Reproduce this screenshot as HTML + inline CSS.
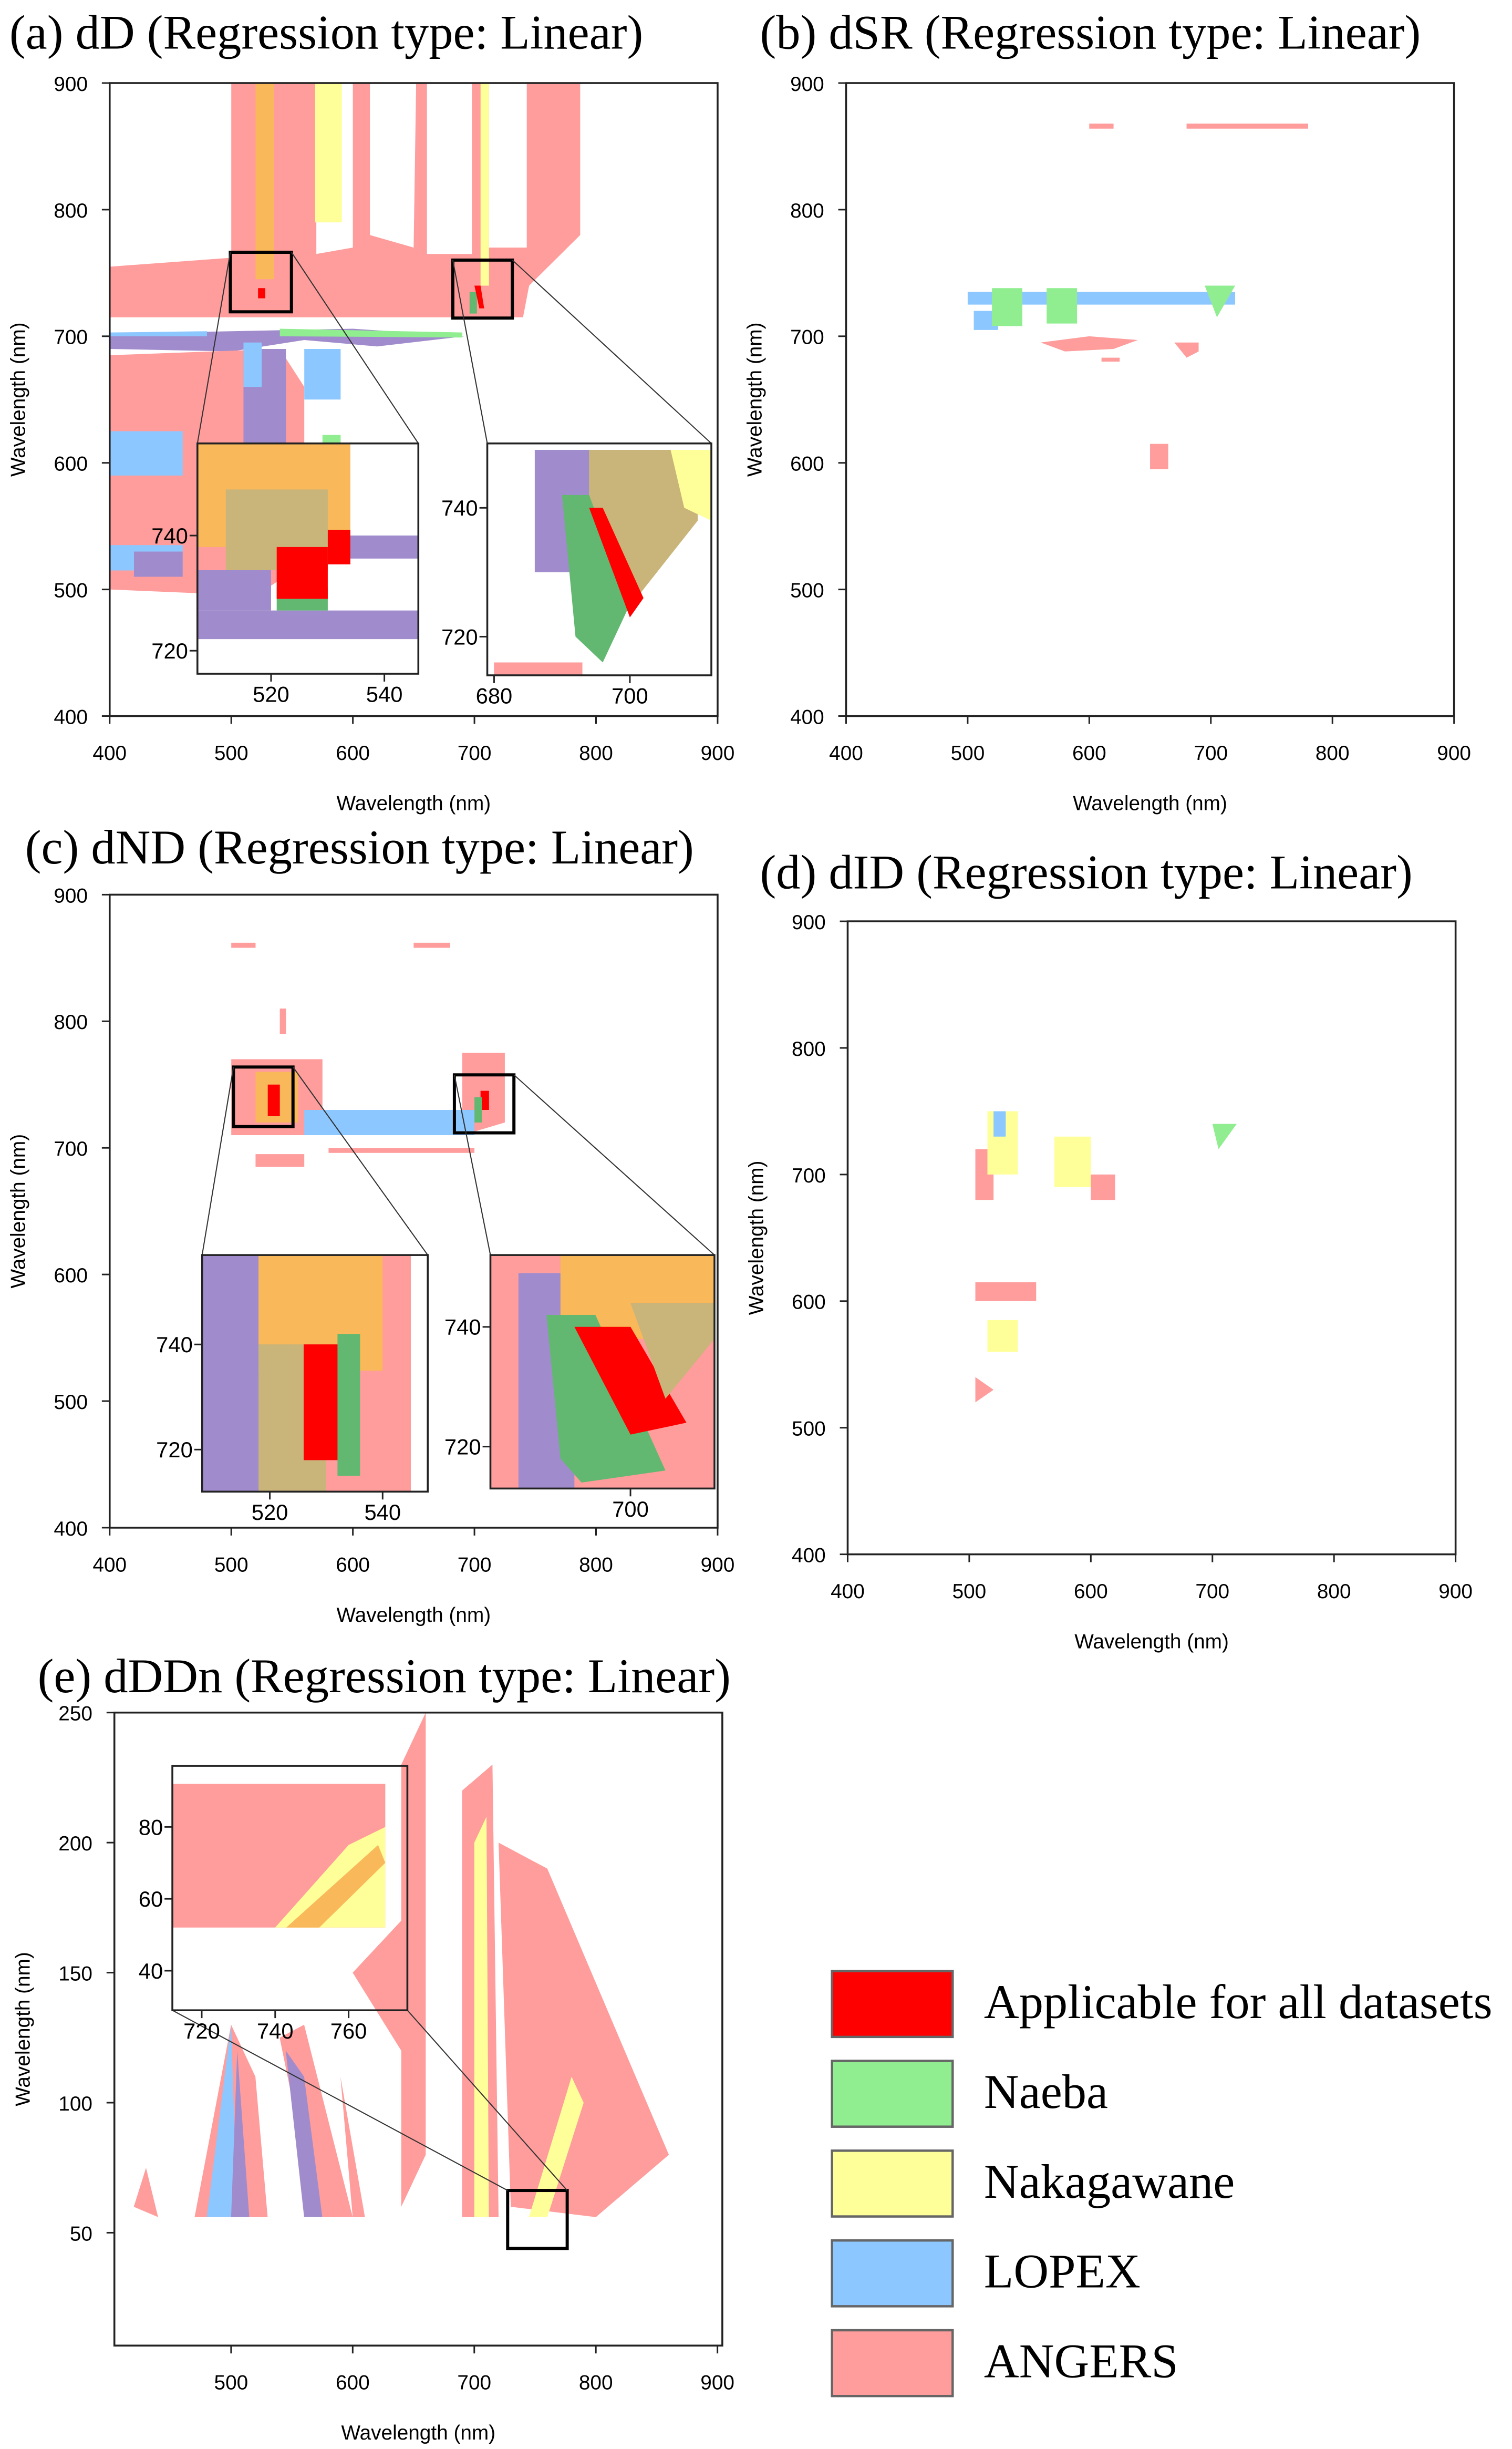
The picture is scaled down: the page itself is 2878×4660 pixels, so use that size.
<!DOCTYPE html>
<html><head><meta charset="utf-8"><style>
html,body{margin:0;padding:0;background:#fff}
svg{display:block}
text{font-family:"Liberation Sans",sans-serif}
text.t{font-family:"Liberation Serif",serif;font-size:31px}
text.lgt{font-family:"Liberation Serif",serif;font-size:31px}
</style></head><body>
<svg id="s" width="2878" height="4660" viewBox="0 0 965 1563" preserveAspectRatio="none" xmlns="http://www.w3.org/2000/svg">
<text class="t" x="6" y="31">(a) dD (Regression type: Linear)</text>
<text class="t" x="485" y="31">(b) dSR (Regression type: Linear)</text>
<text class="t" x="16" y="551">(c) dND (Regression type: Linear)</text>
<text class="t" x="485" y="567">(d) dID (Regression type: Linear)</text>
<text class="t" x="24" y="1080">(e) dDDn (Regression type: Linear)</text>
<g id="legend"></g>
</svg>
<script>
const NS='http://www.w3.org/2000/svg';
const S=document.getElementById('s');
const C={R:'#ff0000',G:'#90ee90',g:'#62b870',Y:'#ffff99',B:'#8cc8ff',P:'#ff9c9c',O:'#f9b859',L:'#c9b47a',U:'#a08ccc'};
const legendLabels=['Applicable for all datasets','Naeba','Nakagawane','LOPEX','ANGERS'];
const legendColors=['R','G','Y','B','P'];
// tick arrays
const xTicks=[400,500,600,700,800,900];
const yTicksMain=[400,500,600,700,800,900];
const yTicksE=[50,100,150,200,250];
// region polygons per panel, data units [color,[x,y,...]]
const regionsA=[
['P',[400,720,400,755,500,762,500,900,570,900,570,765,600,770,600,900,614,900,614,780,650,770,652,900,661,900,661,765,698,765,698,900,712,900,712,770,743,770,743,900,787,900,787,780,745,740,740,715,400,715]],
['Y',[569,900,591,900,591,790,569,790]],
['O',[520,900,535,900,535,745,520,745]],
['Y',[705,900,712,900,712,740,705,740]],
['U',[400,702,400,690,500,688,560,697,620,692,692,700,600,706,500,704]],
['G',[540,706,690,703,690,699,540,700]],
['B',[400,703,480,704,480,700,400,700]],
['P',[400,685,540,690,560,660,560,600,540,560,560,520,520,495,400,500]],
['U',[510,690,545,690,545,600,510,600]],
['B',[510,695,525,695,525,660,510,660]],
['B',[400,625,460,625,460,590,400,590]],
['B',[400,535,460,535,460,515,400,515]],
['U',[420,530,460,530,460,510,420,510]],
['B',[560,690,590,690,590,650,560,650]],
['G',[575,622,590,622,590,610,575,610]],
['R',[522,738,528,738,528,730,522,730]],
['g',[696,735,702,735,702,718,696,718]],
['R',[700,740,705,740,708,722,704,722]]
];
const insetA1=[['O',[507,756,534,756,534,738,507,738]],['L',[512,748,530,748,530,734,512,734]],['U',[507,734,520,734,520,727,507,727]],['U',[507,727,546,727,546,722,507,722]],['U',[530,740,546,740,546,736,530,736]],['g',[521,731,530,731,530,727,521,727]],['R',[521,738,530,738,530,729,521,729]],['R',[530,741,534,741,534,735,530,735]]];
const insetA2=[['U',[686,749,694,749,694,730,686,730]],['L',[694,749,710,749,710,738,698,722,694,730]],['Y',[706,749,712,749,712,738,708,740]],['g',[690,742,694,742,700,725,696,716,692,720]],['R',[694,740,696,740,702,726,700,723]],['P',[680,716,693,716,693,712,680,712]]];
const regionsB=[['P',[600,868,620,868,620,864,600,864]],['P',[680,868,780,868,780,864,680,864]],['B',[500,735,720,735,720,725,500,725]],['B',[505,720,525,720,525,705,505,705]],['G',[520,738,545,738,545,708,520,708]],['G',[565,738,590,738,590,710,565,710]],['G',[695,740,720,740,705,715]],['P',[560,695,600,700,640,697,620,690,580,688]],['P',[610,683,625,683,625,680,610,680]],['P',[670,695,690,695,690,688,680,683]],['P',[650,615,665,615,665,595,650,595]]];
const regionsC=[['P',[500,770,575,770,575,710,500,710]],['O',[520,760,555,760,555,720,520,720]],['R',[530,750,540,750,540,725,530,725]],['P',[690,775,725,775,725,720,690,710]],['R',[705,745,712,745,712,730,705,730]],['g',[700,740,706,740,706,720,700,720]],['P',[520,695,560,695,560,685,520,685]],['P',[580,700,700,700,700,696,580,696]],['B',[560,730,700,730,700,710,560,710]],['P',[500,862,520,862,520,858,500,858]],['P',[650,862,680,862,680,858,650,858]],['P',[540,810,545,810,545,790,540,790]]];
const insetC1=[['P',[508,757,545,757,545,712,508,712]],['U',[508,757,522,757,522,712,508,712]],['O',[518,757,540,757,540,735,518,735]],['L',[518,740,530,740,530,712,518,712]],['R',[526,740,534,740,534,718,526,718]],['g',[532,742,536,742,536,715,532,715]]];
const insetC2=[['P',[680,752,712,752,712,712,680,712]],['U',[684,749,692,749,692,712,684,712]],['O',[690,752,712,752,712,738,690,738]],['g',[688,742,695,742,705,716,693,714,690,718]],['R',[692,740,700,740,708,724,700,722]],['L',[700,744,712,744,712,738,705,728]]];
const regionsD=[['P',[505,720,520,720,520,680,505,680]],['Y',[515,750,540,750,540,700,515,700]],['B',[520,750,530,750,530,730,520,730]],['Y',[570,730,600,730,600,690,570,690]],['P',[600,700,620,700,620,680,600,680]],['G',[700,740,720,740,705,720]],['P',[505,615,555,615,555,600,505,600]],['Y',[515,585,540,585,540,560,515,560]],['P',[505,540,520,530,505,520]]];
const regionsE=[['P',[420,60,430,75,440,56]],['P',[470,56,500,130,520,110,530,56]],['B',[500,130,505,56,480,56]],['U',[505,120,515,56,500,56]],['P',[540,125,560,130,600,56,570,56]],['U',[545,120,560,110,575,56,560,56]],['P',[590,110,610,56,600,56]],['P',[640,230,660,250,660,80,640,60]],['P',[690,220,715,230,720,56,690,56]],['Y',[700,200,710,210,712,56,700,56]],['P',[720,200,760,190,860,80,800,56,730,60]],['Y',[745,56,760,56,790,100,780,110]],['P',[600,150,640,170,660,140,640,120]]];
const insetE=[['P',[712,92,770,92,770,52,712,52]],['Y',[740,52,770,52,770,80,760,75]],['O',[743,52,752,52,770,70,768,75]]];

function el(tag,attrs,parent,name,inter){const e=document.createElementNS(NS,tag);for(const k in attrs)e.setAttribute(k,attrs[k]);


parent.appendChild(e);return e;}
function scale(d0,d1,r0,r1){return v=>r0+(v-d0)*(r1-r0)/(d1-d0);}
function drawRegions(g,regs,sx,sy,clip){regs.forEach((r,i)=>{let pts=[];for(let j=0;j<r[1].length;j+=2)pts.push(sx(r[1][j]).toFixed(1)+','+sy(r[1][j+1]).toFixed(1));
const p=el('polygon',{points:pts.join(' '),fill:C[r[0]]},g,'region-'+i);if(clip)p.setAttribute('clip-path','url(#'+clip+')');});}
let cid=0;
function panel(name,box,xd,yd,xt,yt,regs,xlab){
 const g=el('g',{},S,name);
 const sx=scale(xd[0],xd[1],box[0],box[1]),sy=scale(yd[0],yd[1],box[3],box[2]);
 const id='c'+(cid++);const cp=el('clipPath',{id:id},g,'clip');el('rect',{x:box[0],y:box[2],width:box[1]-box[0],height:box[3]-box[2]},cp,'clip-rect');
 drawRegions(g,regs,sx,sy,id);
 el('rect',{x:box[0],y:box[2],width:box[1]-box[0],height:box[3]-box[2],fill:'none',stroke:'#222','stroke-width':1.2},g,'plot-frame');
 xt.forEach(v=>{const x=sx(v);el('line',{x1:x,x2:x,y1:box[3],y2:box[3]+5,stroke:'#222'},g,'x-tick');const t=el('text',{x:x,y:box[3]+(xlab?28:18),'text-anchor':'middle','font-size':xlab?13:14},g,'x-tick-label');t.textContent=v;});
 yt.forEach(v=>{const y=sy(v);el('line',{x1:box[0]-5,x2:box[0],y1:y,y2:y,stroke:'#222'},g,'y-tick');const t=el('text',{x:box[0]-(xlab?14:6),y:y+5,'text-anchor':'end','font-size':xlab?13:14},g,'y-tick-label');t.textContent=v;});
 if(xlab){const t=el('text',{x:(box[0]+box[1])/2,y:box[3]+60,'text-anchor':'middle','font-size':13},g,'x-axis-title');t.textContent='Wavelength (nm)';
 const cy=(box[2]+box[3])/2;const t2=el('text',{x:box[0]-54,y:cy,'text-anchor':'middle','font-size':13,transform:'rotate(-90 '+(box[0]-54)+' '+cy+')'},g,'y-axis-title');t2.textContent='Wavelength (nm)';}
 return {sx,sy};
}
function zoomLines(b,i){const g=el('g',{},S,'zoom-connector');
 el('rect',{x:b[0],y:b[1],width:b[2]-b[0],height:b[3]-b[1],fill:'none',stroke:'#000','stroke-width':2},g,'zoom-box');
 el('line',{x1:b[0],y1:b[1],x2:i[0],y2:i[1],stroke:'#333','stroke-width':0.7},g,'connector-line');
 el('line',{x1:b[2],y1:b[1],x2:i[2],y2:i[1],stroke:'#333','stroke-width':0.7},g,'connector-line');}
panel('panel-a',[70,458,53,457],[400,900],[400,900],xTicks,yTicksMain,regionsA,true);
zoomLines([147,161,186,199],[126,283,267,283]);zoomLines([289,166,327,203],[311,283,454,283]);
panel('inset-a1',[126,267,283,430],[507,546],[716,756],[520,540],[720,740],insetA1,false);
panel('inset-a2',[311,454,283,431],[679,712],[714,750],[680,700],[720,740],insetA2,false);
panel('panel-b',[540,928,53,457],[400,900],[400,900],xTicks,yTicksMain,regionsB,true);
panel('panel-c',[70,458,571,975],[400,900],[400,900],xTicks,yTicksMain,regionsC,true);
zoomLines([149,681,187,719],[129,801,273,801]);zoomLines([290,686,328,723],[313,801,456,801]);
panel('inset-c1',[129,273,801,952],[508,548],[712,757],[520,540],[720,740],insetC1,false);
panel('inset-c2',[313,456,801,950],[680,712],[713,752],[700],[720,740],insetC2,false);
panel('panel-d',[541,929,588,992],[400,900],[400,900],xTicks,yTicksMain,regionsD,true);
panel('panel-e',[73,461,1093,1497],[404,904],[6.6,250],[500,600,700,800,900],yTicksE,regionsE,true);
zoomLines([324,1398,362,1435],[110,1283,260,1127]);
panel('inset-e',[110,260,1127,1283],[712,776],[29,97],[720,740,760],[40,60,80],insetE,false);
const lg=document.getElementById('legend');
legendLabels.forEach((l,i)=>{const y=1258+i*57.3;
 el('rect',{x:531,y:y,width:77,height:42,fill:C[legendColors[i]],stroke:'#666','stroke-width':1.5},lg,'legend-swatch');
 const t=el('text',{x:628,y:y+30,'class':'lgt'},lg,'legend-label');t.textContent=l;});
</script>
</body></html>
